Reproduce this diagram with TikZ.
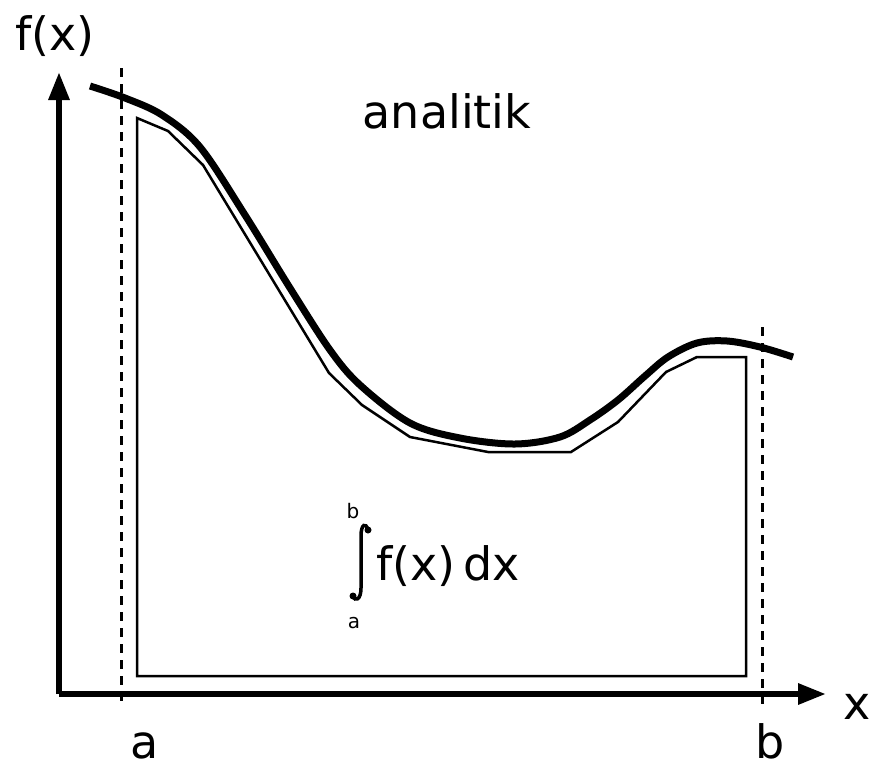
\documentclass[tikz,border=0pt]{standalone}
\usepackage{fontspec}
\setmainfont{DejaVu Sans}
\usetikzlibrary{arrows.meta}
\tikzset{
  axis/.style={line width=6pt,-{Triangle[length=28pt,width=20pt]}},
  limit/.style={line width=3pt,dash pattern=on 9pt off 7pt},
  curve/.style={line width=7pt},
  area/.style={line width=2.5pt,line join=miter},
  lbl/.style={inner sep=0pt,anchor=base,font=\fontsize{46}{50}\selectfont},
  sml/.style={inner sep=0pt,anchor=base,font=\fontsize{20}{24}\selectfont}
}
\begin{document}
\begin{tikzpicture}[x=1pt,y=-1pt]
\useasboundingbox (0,0) rectangle (870,771);
% area polygon
\draw[area] (137,118) -- (168,131) -- (203,165) -- (329,373) -- (362,405) -- (410,437) -- (488,452) -- (571,452) -- (618,422) -- (666,372) -- (697,357) -- (746,357) -- (746,676) -- (137,676) -- cycle;
% limits
\coordinate (at) at (121,68);
\coordinate (ab) at (121,708);
\coordinate (bt) at (762,327);
\coordinate (bb) at (762,710);
\draw[limit] (at) -- (ab);
\draw[limit] (bt) -- (bb);
% axes
\coordinate (o) at (59,694);
\coordinate (ytip) at (59,72);
\coordinate (xtip) at (826,694);
\draw[axis] (o) -- (ytip);
\draw[axis] (o) -- (xtip);
% curve
\draw[curve] plot[smooth,tension=0.55] coordinates {(90,86) (125,98) (162,115) (200,147) (245,215) (290,288) (330,350) (360,385) (410,423) (460,438) (515,444) (560,437) (590,420) (618,400) (645,376) (668,357) (697,343) (727,341) (760,347) (793,357)};
% labels
\node[lbl] (fx) at (55,50) {f(x)};
\node[lbl] (ana) at (447,128) {analitik};
\node[lbl] (xl) at (857,719) {x};
\node[lbl] (al) at (145,758) {a};
\node[lbl] (bl) at (770,758) {b};
\node[lbl,anchor=base west] (fxdx) at (376,580) {f(x)\,dx};
\node[sml] (ub) at (353,518) {b};
\node[sml] (lb) at (354,628) {a};
% integral sign
\draw[line width=3.5pt,line cap=round] (368,530) .. controls (366,522) and (361,524) .. (361,536) -- (361,588) .. controls (361,600) and (355,602) .. (353,596);
\fill (368,530) circle (3.5pt);
\fill (353,596) circle (3.5pt);
\end{tikzpicture}
\end{document}
